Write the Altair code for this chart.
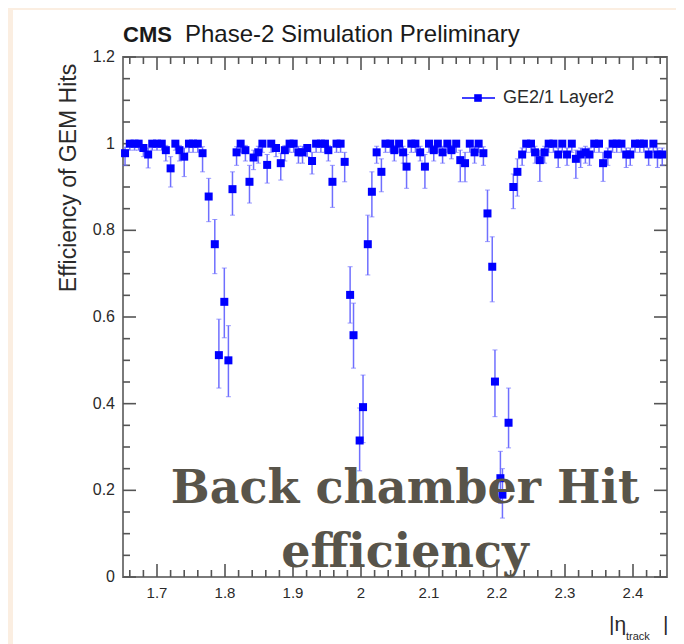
import altair as alt
import pandas as pd

# ---------------- data ----------------
eta = [1.653, 1.660, 1.667, 1.673, 1.680, 1.687, 1.693, 1.700, 1.707, 1.713,
       1.720, 1.727, 1.733, 1.740, 1.747, 1.753, 1.760, 1.767,
       1.776, 1.785, 1.791, 1.799, 1.805, 1.811,
       1.817, 1.823, 1.830, 1.836, 1.842, 1.849, 1.855, 1.862, 1.868, 1.875,
       1.882, 1.888, 1.895, 1.901, 1.908, 1.914, 1.921, 1.928, 1.934, 1.941,
       1.947, 1.952, 1.958, 1.964, 1.970, 1.976,
       1.984, 1.989, 1.998, 2.003, 2.010, 2.016,
       2.023, 2.030, 2.036, 2.043, 2.049, 2.056, 2.062, 2.067, 2.074, 2.080,
       2.087, 2.094, 2.100, 2.107, 2.113, 2.120, 2.127, 2.133, 2.140, 2.146,
       2.153, 2.160, 2.167, 2.173, 2.180,
       2.186, 2.193, 2.197, 2.205, 2.208, 2.217, 2.224, 2.230,
       2.237, 2.243, 2.250, 2.256, 2.263, 2.270, 2.276, 2.283, 2.290, 2.296,
       2.303, 2.310, 2.316, 2.323, 2.330, 2.336, 2.343, 2.350, 2.356, 2.363,
       2.370, 2.376, 2.383, 2.390, 2.396, 2.403, 2.410, 2.416, 2.423, 2.430,
       2.436, 2.443]
eff = [0.978, 1.0, 1.0, 1.0, 0.99, 0.975, 1.0, 1.0, 1.0, 0.985,
       0.943, 1.0, 0.985, 0.97, 1.0, 1.0, 1.0, 0.978,
       0.878, 0.768, 0.512, 0.635, 0.50, 0.895,
       0.98, 1.0, 0.985, 0.912, 0.968, 0.98, 1.0, 0.951, 1.0, 0.99,
       0.955, 0.985, 1.0, 1.0, 0.98, 0.98, 0.99, 0.96, 1.0, 1.0,
       1.0, 0.985, 0.912, 1.0, 1.0, 0.958,
       0.651, 0.558, 0.315, 0.392, 0.768, 0.889,
       0.98, 0.935, 1.0, 1.0, 0.985, 1.0, 0.98, 0.947, 1.0, 1.0,
       0.98, 0.947, 1.0, 0.985, 1.0, 0.98, 1.0, 0.985, 1.0, 0.962,
       0.955, 1.0, 0.98, 1.0, 0.978,
       0.839, 0.716, 0.451, 0.228, 0.19, 0.356, 0.90, 0.935,
       0.975, 1.0, 1.0, 0.98, 0.962, 0.98, 1.0, 1.0, 0.975, 1.0,
       0.975, 1.0, 0.965, 0.975, 0.98, 0.975, 1.0, 1.0, 0.955, 0.975,
       1.0, 1.0, 1.0, 0.975, 0.975, 1.0, 1.0, 1.0, 0.975, 1.0,
       0.975, 0.975]
err_lo = [0.950, 0.985, 0.985, 0.985, 0.97, 0.944, 0.985, 0.985, 0.985, 0.96,
          0.90, 0.985, 0.96, 0.924, 0.98, 0.98, 0.98, 0.935,
          0.82, 0.70, 0.436, 0.552, 0.416, 0.835,
          0.95, 0.98, 0.96, 0.863, 0.94, 0.955, 0.98, 0.909, 0.98, 0.97,
          0.916, 0.96, 0.98, 0.98, 0.955, 0.955, 0.97, 0.93, 0.98, 0.98,
          0.98, 0.96, 0.853, 0.98, 0.98, 0.912,
          0.586, 0.482, 0.245, 0.31, 0.697, 0.831,
          0.955, 0.889, 0.98, 0.98, 0.96, 0.98, 0.955, 0.897, 0.98, 0.98,
          0.96, 0.897, 0.98, 0.96, 0.98, 0.955, 0.98, 0.965, 0.98, 0.912,
          0.912, 0.98, 0.955, 0.98, 0.95,
          0.774, 0.635, 0.37, 0.17, 0.136, 0.298, 0.85, 0.879,
          0.95, 0.98, 0.98, 0.955, 0.913, 0.955, 0.98, 0.98, 0.945, 0.98,
          0.95, 0.98, 0.92, 0.945, 0.955, 0.95, 0.98, 0.98, 0.913, 0.95,
          0.98, 0.98, 0.98, 0.945, 0.95, 0.98, 0.98, 0.98, 0.95, 0.98,
          0.945, 0.95]
err_hi = [0.992, 1.0, 1.0, 1.0, 0.998, 0.99, 1.0, 1.0, 1.0, 0.996,
          0.97, 1.0, 0.996, 0.99, 1.0, 1.0, 1.0, 0.993,
          0.92, 0.825, 0.595, 0.713, 0.58, 0.935,
          0.993, 1.0, 0.996, 0.95, 0.985, 0.994, 1.0, 0.975, 1.0, 0.998,
          0.978, 0.996, 1.0, 1.0, 0.994, 0.994, 0.998, 0.98, 1.0, 1.0,
          1.0, 0.996, 0.95, 1.0, 1.0, 0.98,
          0.716, 0.632, 0.39, 0.466, 0.835, 0.935,
          0.994, 0.965, 1.0, 1.0, 0.996, 1.0, 0.994, 0.975, 1.0, 1.0,
          0.994, 0.975, 1.0, 0.996, 1.0, 0.994, 1.0, 0.996, 1.0, 0.985,
          0.98, 1.0, 0.994, 1.0, 0.993,
          0.893, 0.785, 0.524, 0.29, 0.25, 0.436, 0.93, 0.965,
          0.99, 1.0, 1.0, 0.994, 0.985, 0.994, 1.0, 1.0, 0.99, 1.0,
          0.99, 1.0, 0.985, 0.99, 0.994, 0.99, 1.0, 1.0, 0.98, 0.99,
          1.0, 1.0, 1.0, 0.99, 0.99, 1.0, 1.0, 1.0, 0.99, 1.0,
          0.99, 0.99]

x_major = [1.7, 1.8, 1.9, 2.0, 2.1, 2.2, 2.3, 2.4]
x_major_labels = ["1.7", "1.8", "1.9", "2", "2.1", "2.2", "2.3", "2.4"]
x_minor = [1.66, 1.68, 1.72, 1.74, 1.76, 1.78, 1.82, 1.84, 1.86, 1.88,
           1.92, 1.94, 1.96, 1.98, 2.02, 2.04, 2.06, 2.08, 2.12, 2.14,
           2.16, 2.18, 2.22, 2.24, 2.26, 2.28, 2.32, 2.34, 2.36, 2.38,
           2.42, 2.44]
y_major = [0.0, 0.2, 0.4, 0.6, 0.8, 1.0, 1.2]
y_major_labels = ["0", "0.2", "0.4", "0.6", "0.8", "1", "1.2"]
y_minor = [0.05, 0.1, 0.15, 0.25, 0.3, 0.35, 0.45, 0.5, 0.55, 0.65, 0.7,
           0.75, 0.85, 0.9, 0.95, 1.05, 1.1, 1.15]

title_bold = "CMS"
title_rest = "Phase-2 Simulation Preliminary"
y_title = "Efficiency of GEM Hits"
legend_label = "GE2/1 Layer2"
overlay_lines = ["Back chamber Hit", "efficiency"]

# ---------------- layout ----------------
W, H = 544, 520
PAD_L, PAD_T, PAD_R, PAD_B = 115, 49, 9, 67
SANS = "Liberation Sans"
TICK = "#555555"
FRAME = "#7a7a7a"
BLUE = "#0000ff"
ERR = "#6f6fff"
TXT = "#2a2a2a"

xs = alt.Scale(domain=[1.65, 2.45], nice=False, zero=False)
ys = alt.Scale(domain=[0, 1.2], nice=False, zero=False)

df = pd.DataFrame({"eta": eta, "eff": eff, "lo": err_lo, "hi": err_hi})
one = pd.DataFrame({"k": [0]})


def txt(text, x, y, size, **kw):
    return alt.Chart(pd.DataFrame({"t": [text]})).mark_text(size=size, **kw).encode(
        x=alt.value(x), y=alt.value(y), text="t:N")


panel = alt.Chart(one).mark_rect(color="white").encode(
    x=alt.value(-110), x2=alt.value(W + PAD_R), y=alt.value(-47), y2=alt.value(H + PAD_B))
frame = alt.Chart(one).mark_rect(filled=False, stroke=FRAME, strokeWidth=2).encode(
    x=alt.value(0), x2=alt.value(W), y=alt.value(0), y2=alt.value(H))

X = lambda f: alt.X(f, type="quantitative", scale=xs, axis=None)
Y = lambda f: alt.Y(f, type="quantitative", scale=ys, axis=None)

xmaj = pd.DataFrame({"v": x_major, "lab": x_major_labels})
xmin = pd.DataFrame({"v": x_minor})
ymaj = pd.DataFrame({"v": y_major, "lab": y_major_labels})
ymin = pd.DataFrame({"v": y_minor})

ticks = []
for d, ln in [(xmaj, 13), (xmin, 7)]:
    ticks.append(alt.Chart(d).mark_rule(color=TICK, strokeWidth=1.6).encode(
        x=X("v"), y=alt.value(H), y2=alt.value(H - ln)))
    ticks.append(alt.Chart(d).mark_rule(color=TICK, strokeWidth=1.6).encode(
        x=X("v"), y=alt.value(0), y2=alt.value(ln)))
for d, ln in [(ymaj, 13), (ymin, 7)]:
    ticks.append(alt.Chart(d).mark_rule(color=TICK, strokeWidth=1.6).encode(
        y=Y("v"), x=alt.value(0), x2=alt.value(ln)))
    ticks.append(alt.Chart(d).mark_rule(color=TICK, strokeWidth=1.6).encode(
        y=Y("v"), x=alt.value(W), x2=alt.value(W - ln)))

xlabels = alt.Chart(xmaj).mark_text(size=15, font=SANS, color=TXT,
                                    baseline="middle", align="center").encode(
    x=X("v"), y=alt.value(H + 16), text="lab:N")
ylabels = alt.Chart(ymaj).mark_text(size=16, font=SANS, color=TXT,
                                    baseline="middle", align="right").encode(
    y=Y("v"), x=alt.value(-8), text="lab:N")

errbars = alt.Chart(df).mark_rule(color=ERR, strokeWidth=1.5).encode(
    x=X("eta"), y=Y("lo"), y2="hi")
cap_lo = alt.Chart(df).mark_tick(color=ERR, orient="horizontal", size=5, thickness=1).encode(
    x=X("eta"), y=Y("lo"))
cap_hi = alt.Chart(df).mark_tick(color=ERR, orient="horizontal", size=5, thickness=1).encode(
    x=X("eta"), y=Y("hi"))
points = alt.Chart(df).mark_square(size=64, color=BLUE, opacity=1).encode(
    x=X("eta"), y=Y("eff"))

leg_line = alt.Chart(one).mark_rule(color=BLUE, strokeWidth=1.5).encode(
    x=alt.value(339), x2=alt.value(372), y=alt.value(41))
leg_pt = alt.Chart(one).mark_square(size=58, color=BLUE, opacity=1).encode(
    x=alt.value(355), y=alt.value(41))
leg_txt = txt(legend_label, 380, 41, 18, font=SANS, color=TXT, align="left", baseline="middle")

t1 = txt(title_bold, 0, -15, 22, font=SANS, fontWeight="bold", color="#1a1a1a", align="left", baseline="alphabetic")
t2 = txt(title_rest, 62, -15, 24, font=SANS, color="#1a1a1a", align="left", baseline="alphabetic")
ytitle = txt(y_title, -54, 121, 23, font=SANS, color=TXT, angle=270, align="center", baseline="middle")

xt1 = txt("|η", 486, 574, 21, font=SANS, color=TXT, align="left", baseline="alphabetic")
xt2 = txt("track", 503, 583, 11, font=SANS, color=TXT, align="left", baseline="alphabetic")
xt3 = txt("|", 540, 574, 21, font=SANS, color=TXT, align="left", baseline="alphabetic")

ov1 = txt(overlay_lines[0], 282, 446, 46, font="DejaVu Serif", fontWeight="bold", color="#58544a",
          align="center", baseline="alphabetic")
ov2 = txt(overlay_lines[1], 282, 510, 46, font="DejaVu Serif", fontWeight="bold", color="#58544a",
          align="center", baseline="alphabetic")

chart = alt.layer(
    panel, frame, *ticks, xlabels, ylabels, errbars, cap_lo, cap_hi, points,
    leg_line, leg_pt, leg_txt, t1, t2, ytitle, xt1, xt2, xt3, ov1, ov2
).properties(
    width=W, height=H,
    autosize=alt.AutoSizeParams(type="none"),
    padding={"left": PAD_L, "top": PAD_T, "right": PAD_R, "bottom": PAD_B},
    background="#fbeee1",
).configure_view(stroke=None)

chart.save("out.html", embed_options={"renderer": "svg", "actions": False})
